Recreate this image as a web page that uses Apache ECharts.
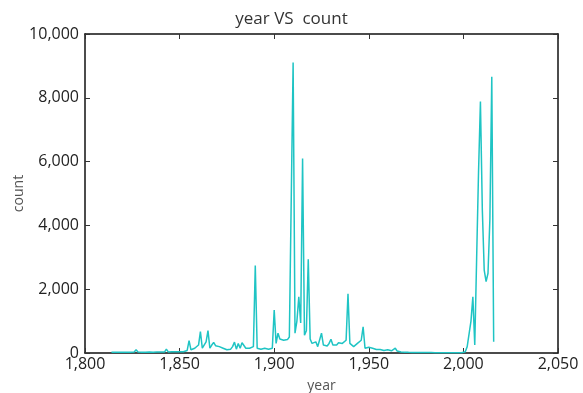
<!DOCTYPE html>
<html>
<head>
<meta charset="utf-8">
<title>year VS count</title>
<script src="https://cdn.jsdelivr.net/npm/echarts@6/dist/echarts.min.js"></script>
<style>
    html, body { margin: 0; padding: 0; background: #fff; }
    #chart { width: 583px; height: 393px; }
</style>
</head>
<body>
<div id="chart"></div>
<script>
// yearly counts (first year = 1814)
var startYear = 1814;
var counts = [
    20, 20, 25, 25, 20, 25, 25, 20, 25, 25, 25, 20, 30, 100, 30,   // 1814-1828
    25, 25, 30, 25, 25, 30, 30, 25, 30, 30, 30, 35, 30, 30, 120,  // 1829-1843
    35, 35, 40, 35, 40, 35, 40, 40, 40, 40, 80, 390, 100, 80,     // 1844-1857
    150, 100, 250, 670, 150, 200, 350, 700, 150, 250, 330, 230,   // 1858-1869
    260, 200, 260, 150, 120, 100, 90, 120, 200, 340, 120, 300,    // 1870-1881
    150, 320, 380, 150, 100, 150, 100, 200, 2740, 150, 100, 120,  // 1882-1893
    80, 150, 200, 120, 180, 150, 1350, 300, 620, 440, 500, 400,   // 1894-1905
    460, 420, 500, 550, 9110, 620, 1000, 1760, 940, 6100, 560,    // 1906-1916
    700, 2940, 440, 300, 320, 350, 200, 200, 620, 250, 200, 220,  // 1917-1928
    300, 430, 250, 200, 250, 320, 280, 300, 350, 400, 1860, 300,  // 1929-1940
    250, 200, 250, 300, 350, 400, 820, 150, 150, 180, 200, 150,   // 1941-1952
    100, 110, 110, 110, 90, 80, 90, 100, 80, 70, 100, 150, 60,    // 1953-1965
    40, 30, 30, 25, 20, 20, 20, 18, 18, 15, 15, 15, 15, 12, 12,   // 1966-1980
    12, 12, 12, 10, 10, 10, 10, 10, 10, 10, 10, 10, 10, 10, 10,   // 1981-1995
    10, 10, 10, 10, 10, 40, 200, 600, 1000, 1760, 250, 2970,      // 1996-2007
    5680, 7880, 4500, 2600, 2235, 2500, 4200, 8660, 350           // 2008-2016
];
var xTicks = [1800, 1850, 1900, 1950, 2000, 2050];
var yTicks = [0, 2000, 4000, 6000, 8000, 10000];

var seriesData = [];
for (var i = 0; i < counts.length; i++) {
    seriesData.push([startYear + i, counts[i]]);
}

function commas(v) {
    return String(v).replace(/\B(?=(\d{3})+(?!\d))/g, ',');
}

var font = "'Open Sans', 'DejaVu Sans', sans-serif";
var frame = { show: true, onZero: false, lineStyle: { color: '#111', width: 1.5 } };
var ticks = { show: true, inside: true, length: 5, lineStyle: { color: '#333' } };

var myChart = echarts.init(document.getElementById('chart'));
var option = {
    animation: false,
    title: {
        text: 'year VS  count',
        left: 'center',
        top: 6,
        textStyle: { fontFamily: font, fontSize: 17, fontWeight: 'normal', color: '#333' }
    },
    grid: { left: 85, right: 25, top: 34, bottom: 40, outerBoundsMode: 'none' },
    xAxis: [
        {
            type: 'value',
            min: xTicks[0],
            max: xTicks[xTicks.length - 1],
            interval: 50,
            name: 'year',
            nameLocation: 'middle',
            nameGap: 26,
            nameMoveOverlap: false,
            nameTextStyle: { fontFamily: font, fontSize: 14, color: '#555' },
            axisLine: frame,
            axisTick: ticks,
            splitLine: { show: false },
            axisLabel: {
                fontFamily: font, fontSize: 16, color: '#222', margin: 3,
                formatter: function (v) { return commas(v); }
            }
        },
        {
            type: 'value',
            position: 'top',
            min: xTicks[0],
            max: xTicks[xTicks.length - 1],
            interval: 50,
            axisLine: frame,
            axisTick: ticks,
            splitLine: { show: false },
            axisLabel: { show: false }
        }
    ],
    yAxis: [
        {
            type: 'value',
            min: yTicks[0],
            max: yTicks[yTicks.length - 1],
            interval: 2000,
            name: 'count',
            nameLocation: 'middle',
            nameGap: 59,
            nameMoveOverlap: false,
            nameTextStyle: { fontFamily: font, fontSize: 14, color: '#555' },
            axisLine: frame,
            axisTick: ticks,
            splitLine: { show: false },
            axisLabel: {
                fontFamily: font, fontSize: 16, color: '#222', margin: 6,
                formatter: function (v) { return commas(v); }
            }
        },
        {
            type: 'value',
            position: 'right',
            min: yTicks[0],
            max: yTicks[yTicks.length - 1],
            interval: 2000,
            axisLine: frame,
            axisTick: ticks,
            splitLine: { show: false },
            axisLabel: { show: false }
        }
    ],
    series: [
        {
            type: 'line',
            data: seriesData,
            showSymbol: false,
            lineStyle: { color: '#1fc4c4', width: 1.5 },
            itemStyle: { color: '#1fc4c4' }
        }
    ]
};
myChart.setOption(option);
</script>
</body>
</html>
